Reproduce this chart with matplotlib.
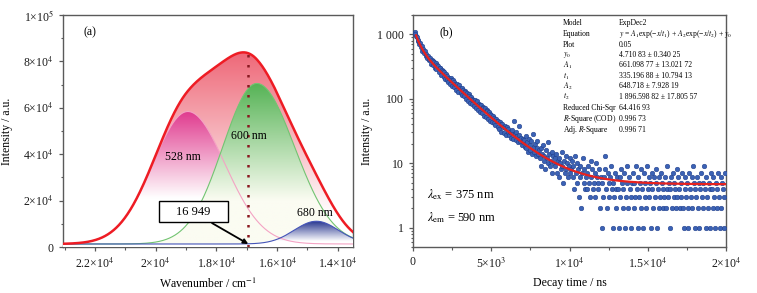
import numpy as np
import matplotlib
matplotlib.use('Agg')
import matplotlib.pyplot as plt
import matplotlib.colors as mcolors
from matplotlib.patches import Polygon, Rectangle
from matplotlib.ticker import FixedLocator, FixedFormatter, MultipleLocator, LogLocator, NullFormatter

plt.rcParams['font.family'] = ['Liberation Serif', 'DejaVu Serif']
plt.rcParams['mathtext.fontset'] = 'stix'

# ---------------- Data: panel (a) Gaussian deconvolution ----------------
peak_labels = ['528 nm', '600 nm', '680 nm']
peak_centers = [18939, 16667, 14706]          # cm^-1
peak_heights = [57100, 69200, 9800]           # a.u. above baseline
peak_sigma_hi = [1150, 1120, 730]             # width on high-wavenumber side
peak_sigma_lo = [1220, 1240, 730]             # width on low-wavenumber side
baseline = 1300
marked_wavenumber = 16949
marked_label = '16 949'
a_xticks = [22000, 20000, 18000, 16000, 14000]
a_xticklabels = ['2.2×10$^4$', '2×10$^4$', '1.8×10$^4$', '1.6×10$^4$', '1.4×10$^4$']
a_yticks = [0, 20000, 40000, 60000, 80000, 100000]
a_yticklabels = ['0', '2×10$^4$', '4×10$^4$', '6×10$^4$', '8×10$^4$', '1×10$^5$']

# ---------------- Data: panel (b) decay ----------------
decay_counts = (
    [1075, 1012, 930, 921, 798, 812, 702, 735, 628, 655, 562, 598, 505, 548, 462, 503, 428, 469, 405, 421] +
    [432, 351, 401, 329, 382, 372, 298, 356, 288, 334, 321, 259, 305, 297, 236, 282, 271, 219, 258, 204] +
    [241, 198, 226, 182, 214, 171, 207, 193, 160, 198, 152, 184, 171, 139, 169, 158, 128, 162, 147, 121] +
    [148, 114, 139, 109, 131, 127, 98, 122, 94, 117, 112, 87, 108, 83, 101, 97, 76, 95, 73, 89] +
    [91, 68, 84, 79, 63, 81, 60, 75, 71, 55, 73, 52, 68, 64, 48, 62, 59, 45, 57, 43] +
    [55, 42, 51, 39, 49, 46, 36, 45, 34, 43, 40, 31, 41, 37, 29, 38, 35, 27, 36, 30] +
    [34, 27, 31, 25, 29, 33, 24, 46, 28, 23, 30, 26, 21, 27, 38, 22, 25, 19, 24, 21] +
    [23, 18, 26, 17, 21, 15, 24, 19, 16, 22, 14, 28, 18, 15, 20, 13, 17, 22, 14, 16] +
    [12, 17, 9, 14, 19, 11, 13, 8, 16, 12, 10, 21, 14, 9, 11, 15, 7, 13, 10, 12] +
    [9, 14, 7, 11, 6, 12, 10, 8, 15, 9, 5, 11, 7, 13, 8, 10, 6, 9, 12, 7] +
    [8, 11, 6, 9, 4, 13, 7, 5, 10, 8, 3, 6, 9, 2, 7, 12, 5, 8, 4, 6] +
    [7, 4, 9, 5, 3, 11, 6, 8, 4, 5, 7, 3, 10, 6, 4, 5, 8, 2, 6, 1] +
    [5, 3, 6, 8, 13, 4, 2, 7, 5, 3, 6, 9, 4, 1, 5, 3, 7, 2, 4, 6] +
    [4, 1, 6, 3, 8, 5, 2, 4, 7, 1, 3, 5, 9, 2, 6, 4, 1, 3, 5, 7] +
    [2, 5, 3, 9, 4, 1, 6, 3, 5, 2, 8, 4, 1, 7, 3, 5, 2, 9, 4, 6] +
    [3, 5, 1, 7, 4, 2, 6, 3, 8, 5, 1, 4, 2, 6, 3, 7, 5, 2, 4, 3] +
    [6, 2, 4, 9, 3, 5, 1, 4, 6, 2, 7, 3, 5, 4, 2, 8, 3, 6, 4, 2] +
    [5, 3, 7, 2, 1, 4, 6, 3, 5, 2, 1, 7, 4, 3, 6, 2, 9, 5, 1, 4] +
    [3, 6, 2, 5, 1, 4, 7, 3, 2, 5, 9, 4, 1, 6, 3, 2, 5, 4, 1, 7] +
    [4, 2, 6, 3, 1, 5, 2, 4, 7, 3, 1, 6, 2, 5, 4, 1, 3, 7]
)
decay_t0 = 100      # ns, first channel
decay_step = 50     # ns, channel width
fit_y0, fit_A1, fit_t1, fit_A2, fit_t2 = 4.71083, 661.09877, 335.19688, 648.718, 1896.59882
table_rows = [
    ('Model', 'ExpDec2'),
    ('Equation', r'$y$ = $A_1$exp(−$x$/$t_1$) + $A_2$exp(−$x$/$t_2$) + $y_0$'),
    ('Plot', '0.05'),
    (r'$y_0$', '4.710 83 ± 0.340 25'),
    (r'$A_1$', '661.098 77 ± 13.021 72'),
    (r'$t_1$', '335.196 88 ± 10.794 13'),
    (r'$A_2$', '648.718 ± 7.928 19'),
    (r'$t_2$', '1 896.598 82 ± 17.805 57'),
    ('Reduced Chi-Sqr', '64.416 93'),
    (r'$R$-Square (COD)', '0.996 73'),
    (r'Adj. $R$-Square', '0.996 71'),
]
b_xticks = [0, 5000, 10000, 15000, 20000]
b_xticklabels = ['0', '5×10$^3$', '1×10$^4$', '1.5×10$^4$', '2×10$^4$']
b_yticks = [1, 10, 100, 1000]
b_yticklabels = ['1', '10', '100', '1 000']

# ---------------- Figure ----------------
fig = plt.figure(figsize=(7.57, 2.93), dpi=100)
W, H = 757, 293
axA = fig.add_axes([63 / W, (H - 247) / H, 290 / W, 232 / H])
axB = fig.add_axes([413 / W, (H - 247) / H, 313 / W, 232 / H])

spine_c = '#5a5a5a'
for ax in (axA, axB):
    for s in ax.spines.values():
        s.set_color(spine_c)
        s.set_linewidth(1.0)
    ax.tick_params(which='both', direction='out', color=spine_c, labelsize=8.5,
                   top=False, right=False, labelcolor='#1a1a1a')
    ax.tick_params(which='major', length=3.2, width=0.9)
    ax.tick_params(which='minor', length=1.8, width=0.8)

# ---- panel (a)
xlim_a = (23050, 13500)
wn = np.linspace(xlim_a[1], xlim_a[0], 800)


def component(c, h, s_hi, s_lo):
    s = np.where(wn >= c, s_hi, s_lo)
    return h * np.exp(-(wn - c) ** 2 / (2 * s ** 2))


comps = [component(c, h, sh, sl) for c, h, sh, sl in
         zip(peak_centers, peak_heights, peak_sigma_hi, peak_sigma_lo)]
envelope = baseline + np.sum(comps, axis=0)


def grad_fill(ax, x, ylow, yhigh, c_top, c_bot, y_bot, y_top, z):
    verts = np.concatenate([np.column_stack([x, yhigh]),
                            np.column_stack([x[::-1], ylow[::-1]])])
    poly = Polygon(verts, closed=True, facecolor='none', edgecolor='none',
                   transform=ax.transData)
    ax.add_patch(poly)
    n = 300
    yy = np.linspace(0, y_top, n)
    f = np.clip((yy - y_bot) / (y_top - y_bot), 0, 1)[:, None]
    ct = np.array(mcolors.to_rgb(c_top))
    cb = np.array(mcolors.to_rgb(c_bot))
    img = (cb + (ct - cb) * f)[:, None, :]
    im = ax.imshow(img, extent=(x.min(), x.max(), 0, y_top), origin='lower',
                   aspect='auto', zorder=z, interpolation='bilinear')
    im.set_clip_path(poly)


base_arr = np.full_like(wn, 0.0)
grad_fill(axA, wn, base_arr, envelope, '#ee6878', '#ffffff', 14000, envelope.max(), 1)
comp_tops = ['#e03a8e', '#55b355', '#27368f']
comp_bots = ['#ffffff', '#fbfcf2', '#ffffff']
comp_fade = [21000, 20000, 2500]
comp_lines = ['#f4a3c4', '#72c472', '#4454b8']
for i, comp in enumerate(comps):
    grad_fill(axA, wn, base_arr, baseline + comp, comp_tops[i], comp_bots[i],
              comp_fade[i], baseline + peak_heights[i], 2 + i)
for i, comp in enumerate(comps):
    axA.plot(wn, baseline + comp, color=comp_lines[i], lw=0.8, zorder=6)
axA.plot(wn, envelope, color='#ee1c24', lw=1.8, zorder=7)

env_mark = np.interp(marked_wavenumber, wn, envelope)
axA.plot([marked_wavenumber, marked_wavenumber], [0, env_mark], color='#8a1a22',
         lw=1.8, linestyle=(0, (1, 3)), zorder=8)

label_pos = [(19115, 38800), (16918, 47800), (14754, 14600)]
for lab, (lx, ly) in zip(peak_labels, label_pos):
    axA.text(lx, ly, lab, fontsize=8.5, ha='center', va='center', zorder=9)

axA.add_patch(Rectangle((0.331, 0.108), 0.238, 0.090, transform=axA.transAxes,
                        facecolor='white', edgecolor='black', lw=1.0, zorder=9))
axA.text(0.45, 0.153, marked_label, transform=axA.transAxes, fontsize=9,
         ha='center', va='center', zorder=10)
axA.annotate('', xy=(marked_wavenumber, baseline), xycoords='data',
             xytext=(0.514, 0.103), textcoords='axes fraction',
             arrowprops=dict(arrowstyle='-|>', color='black', lw=1.3,
                             mutation_scale=7, shrinkA=0, shrinkB=0), zorder=10)
axA.text(0.069, 0.927, '(a)', transform=axA.transAxes, fontsize=8.5,
         ha='left', va='center')

axA.set_xlim(*xlim_a)
axA.set_ylim(0, 100000)
axA.xaxis.set_major_locator(FixedLocator(a_xticks))
axA.xaxis.set_major_formatter(FixedFormatter(a_xticklabels))
axA.xaxis.set_minor_locator(MultipleLocator(1000))
axA.yaxis.set_major_locator(FixedLocator(a_yticks))
axA.yaxis.set_major_formatter(FixedFormatter(a_yticklabels))
axA.yaxis.set_minor_locator(MultipleLocator(10000))
axA.set_xlabel('Wavenumber / cm$^{-1}$', fontsize=8.5)
axA.set_ylabel('Intensity / a.u.', fontsize=8.5)
axA.xaxis.set_label_coords(0.5, -0.128)
axA.yaxis.set_label_coords(-0.172, 0.5)

# ---- panel (b)
decay_counts = np.array(decay_counts, dtype=float)
decay_time = decay_t0 + decay_step * np.arange(len(decay_counts))
axB.scatter(decay_time, decay_counts, s=11, facecolor='#3b62b5', edgecolor='#1d3b88',
            linewidths=0.35, zorder=3, clip_on=True)
tf = np.linspace(190, 20000, 600)
yf = fit_y0 + fit_A1 * np.exp(-tf / fit_t1) + fit_A2 * np.exp(-tf / fit_t2)
axB.plot(tf, yf, color='#e8221e', lw=1.6, zorder=4)

axB.set_yscale('log')
axB.set_xlim(0, 20000)
axB.set_ylim(0.5, 2000)
axB.xaxis.set_major_locator(FixedLocator(b_xticks))
axB.xaxis.set_major_formatter(FixedFormatter(b_xticklabels))
axB.xaxis.set_minor_locator(MultipleLocator(2500))
axB.yaxis.set_major_locator(FixedLocator(b_yticks))
axB.yaxis.set_major_formatter(FixedFormatter(b_yticklabels))
axB.yaxis.set_minor_locator(LogLocator(base=10, subs=np.arange(2, 10), numticks=20))
axB.yaxis.set_minor_formatter(NullFormatter())
axB.set_xlabel('Decay time / ns', fontsize=8.5)
axB.set_ylabel('Intensity / a.u.', fontsize=8.5)
axB.xaxis.set_label_coords(0.5, -0.128)
axB.yaxis.set_label_coords(-0.128, 0.5)

axB.text(0.086, 0.927, '(b)', transform=axB.transAxes, fontsize=8.5,
         ha='left', va='center')
axB.text(0.045, 0.224, r'$\lambda_{\mathrm{ex}}$ = 375 nm', transform=axB.transAxes,
         fontsize=9, ha='left', va='center')
axB.text(0.045, 0.125, r'$\lambda_{\mathrm{em}}$ = 590 nm', transform=axB.transAxes,
         fontsize=9, ha='left', va='center')

row_px = [22.7, 34, 45.3, 55.3, 65.3, 76, 86, 96.7, 107.7, 118.7, 130]
for (k, v), rp in zip(table_rows, row_px):
    yax = (247 - rp) / 232
    axB.text(0.479, yax, k, transform=axB.transAxes, fontsize=5.5, ha='left', va='center')
    axB.text(0.658, yax, v, transform=axB.transAxes, fontsize=5.5, ha='left', va='center')

fig.savefig('out.png', dpi=100)
